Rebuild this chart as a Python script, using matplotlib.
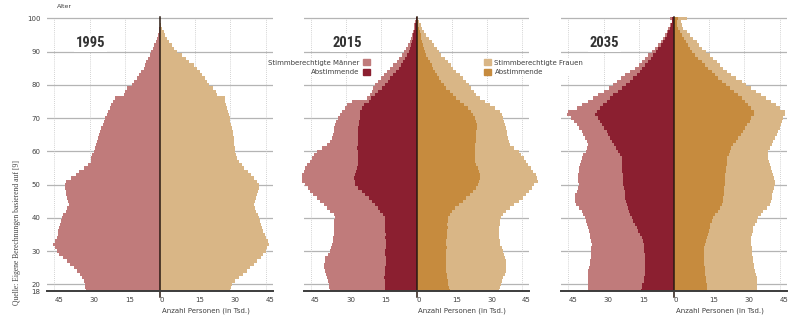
import numpy as np
import matplotlib.pyplot as plt
from matplotlib.patches import Patch

# ages 18..100, one value per year (Tsd. Personen)
ages = np.arange(18, 101)
years = ['1995', '2015', '2035']

# 1995 - stimmberechtigte only
m95 = [31.6, 31.8, 31.9, 32.5, 33.3, 34.3, 35.4, 36.8, 38.2, 39.7,
       41.5, 43.2, 44.0, 44.8, 45.4, 44.6, 44.0, 43.6, 43.3, 43.0,
       42.5, 42.2, 41.8, 41.2, 40.0, 39.5, 39.0, 39.4, 39.8, 40.0,
       40.2, 40.4, 40.4, 40.0, 38.0, 36.0, 34.5, 32.6, 30.5, 29.6,
       29.3, 28.8, 28.0, 27.6, 27.2, 26.8, 26.5, 26.0, 25.6, 25.0,
       24.5, 24.0, 23.3, 22.6, 22.0, 21.4, 21.0, 20.2, 19.3, 15.5,
       15.0, 14.2, 12.0, 11.2, 10.0, 9.0, 8.0, 7.0, 6.5, 5.8,
       5.2, 4.4, 3.7, 3.0, 2.4, 1.8, 1.3, 0.9, 0.5, 0.3,
       0.1, 0.0, 0.0]
f95 = [30.0, 30.3, 30.7, 32.0, 33.6, 35.3, 37.1, 38.5, 40.0, 41.4,
       43.0, 44.0, 45.0, 45.8, 46.4, 45.9, 45.2, 44.6, 44.0, 43.5,
       43.0, 42.6, 42.1, 41.6, 41.0, 40.5, 40.0, 40.6, 41.0, 41.4,
       41.8, 42.1, 42.1, 41.2, 40.2, 38.8, 37.5, 36.0, 34.8, 33.6,
       32.9, 32.5, 32.1, 31.9, 31.7, 31.5, 31.4, 31.2, 31.0, 30.7,
       30.4, 30.0, 29.7, 29.4, 29.0, 28.6, 28.3, 27.9, 27.5, 24.3,
       23.8, 22.5, 20.8, 19.9, 19.0, 18.0, 17.0, 15.8, 14.3, 12.5,
       11.0, 9.2, 7.3, 6.0, 5.0, 4.0, 3.0, 2.2, 1.5, 1.0,
       0.5, 0.2, 0.0]

# 2015
m15 = [36.8, 37.2, 37.5, 37.8, 38.2, 38.5, 38.9, 39.4, 39.6, 39.2,
       38.9, 37.8, 36.8, 36.4, 36.1, 35.8, 35.6, 35.4, 35.4, 35.2,
       35.4, 35.0, 34.7, 35.0, 36.8, 38.2, 39.6, 41.0, 42.4, 44.0,
       45.3, 46.5, 47.4, 48.8, 49.0, 48.8, 48.1, 47.4, 46.7, 45.5,
       44.6, 43.8, 42.5, 40.5, 38.2, 37.0, 36.1, 35.8, 35.4, 35.0,
       34.7, 34.2, 33.7, 32.8, 31.8, 30.5, 29.7, 27.6, 21.2, 20.0,
       19.1, 18.4, 17.7, 16.3, 15.2, 14.1, 12.7, 11.3, 9.9, 8.5,
       7.4, 6.4, 5.4, 4.5, 3.7, 3.0, 2.5, 2.1, 1.6, 1.2,
       0.9, 0.7, 0.3]
am15 = [13.4, 13.4, 13.4, 13.6, 13.9, 13.6, 13.4, 13.4, 13.2, 13.0,
        13.2, 13.4, 13.4, 13.2, 13.0, 13.2, 13.4, 13.2, 13.4, 13.4,
        13.6, 13.4, 13.6, 14.5, 15.6, 16.6, 17.7, 19.2, 20.5, 22.0,
        23.3, 24.8, 26.2, 26.4, 26.6, 26.2, 25.7, 25.2, 25.0, 24.8,
        24.8, 24.8, 25.0, 25.2, 25.0, 24.8, 24.8, 24.8, 24.8, 24.8,
        24.6, 24.5, 24.3, 24.2, 24.0, 23.3, 22.6, 20.5, 19.5, 17.7,
        16.3, 14.9, 13.6, 12.4, 11.2, 9.9, 8.6, 7.4, 6.5, 5.7,
        4.8, 4.0, 3.4, 2.8, 2.4, 2.0, 1.7, 1.4, 1.1, 0.8,
        0.5, 0.3, 0.1]
f15 = [35.1, 35.4, 36.0, 36.5, 37.0, 37.5, 38.0, 38.2, 38.2, 38.2,
       37.8, 37.3, 36.8, 36.2, 35.6, 35.4, 35.1, 35.1, 35.0, 35.2,
       35.4, 35.6, 36.1, 37.0, 38.2, 40.0, 41.7, 43.5, 45.3, 46.7,
       48.1, 49.3, 50.2, 51.6, 51.4, 50.9, 49.8, 48.8, 47.7, 46.7,
       45.6, 44.6, 43.5, 41.5, 40.0, 39.4, 38.9, 38.6, 38.4, 38.2,
       37.8, 37.3, 36.8, 36.2, 35.4, 33.5, 31.1, 29.0, 27.0, 25.5,
       24.4, 23.3, 22.2, 21.2, 19.8, 18.4, 17.0, 15.6, 14.5, 13.4,
       12.0, 10.6, 9.5, 8.5, 7.4, 6.4, 5.3, 4.2, 3.3, 2.5,
       1.8, 1.1, 0.5]
af15 = [14.1, 13.8, 13.4, 13.2, 13.0, 12.8, 12.7, 12.7, 12.5, 12.4,
        12.6, 12.7, 12.7, 12.8, 12.7, 12.7, 12.8, 13.0, 13.0, 13.2,
        13.0, 13.2, 13.4, 14.2, 14.9, 16.5, 18.1, 19.7, 21.2, 22.6,
        24.0, 25.2, 26.2, 26.6, 26.9, 26.9, 26.5, 26.2, 25.5, 25.0,
        24.8, 24.8, 25.0, 24.8, 25.0, 25.2, 25.2, 25.4, 25.5, 25.7,
        25.7, 25.5, 25.0, 24.0, 23.0, 21.9, 20.2, 18.4, 17.0, 15.6,
        14.1, 12.7, 11.6, 10.6, 9.7, 8.8, 7.9, 7.1, 6.4, 5.7,
        4.9, 4.2, 3.6, 3.1, 2.7, 2.3, 2.0, 1.7, 1.4, 1.0,
        0.7, 0.4, 0.2]

# 2035
m35 = [36.7, 36.7, 36.7, 36.6, 36.5, 36.5, 36.5, 36.2, 36.0, 35.7,
       35.5, 35.3, 35.3, 35.2, 35.0, 35.3, 35.7, 36.0, 36.4, 36.7,
       37.2, 37.6, 37.9, 38.6, 39.3, 40.5, 41.8, 42.2, 42.4, 42.0,
       41.4, 41.0, 40.7, 40.8, 41.0, 40.9, 40.7, 40.4, 40.0, 39.7,
       39.3, 38.6, 37.6, 37.0, 36.8, 37.2, 37.9, 38.6, 39.3, 40.3,
       41.4, 42.5, 44.0, 45.7, 45.0, 41.5, 39.3, 36.5, 34.4, 32.2,
       30.0, 27.9, 26.2, 24.4, 22.6, 20.9, 18.7, 16.6, 15.0, 13.5,
       12.2, 10.9, 9.5, 8.1, 6.8, 5.5, 4.6, 3.8, 3.1, 2.4,
       1.7, 1.0, 1.7]
am35 = [14.0, 13.7, 13.5, 13.0, 12.6, 12.4, 12.3, 12.3, 12.3, 12.3,
        12.4, 12.5, 12.6, 12.8, 13.0, 13.4, 13.8, 14.5, 15.2, 15.9,
        16.8, 17.4, 18.0, 18.6, 19.2, 19.6, 20.1, 20.5, 20.9, 21.0,
        21.1, 21.3, 21.6, 21.6, 21.6, 21.8, 22.0, 22.1, 22.3, 22.3,
        22.3, 23.0, 23.7, 24.6, 25.4, 26.3, 27.2, 28.0, 28.7, 29.8,
        30.8, 31.7, 32.5, 33.6, 33.0, 31.5, 30.1, 28.7, 27.2, 25.8,
        24.0, 22.3, 20.5, 18.7, 17.3, 15.9, 14.7, 13.5, 12.2, 10.9,
        9.8, 8.8, 7.7, 6.7, 5.6, 4.5, 3.8, 3.1, 2.4, 1.7,
        1.2, 0.7, 0.7]
f35 = [35.2, 35.2, 35.2, 35.2, 35.2, 34.8, 34.5, 34.2, 34.0, 33.8,
       33.5, 33.3, 33.3, 33.1, 33.0, 33.0, 33.0, 33.2, 33.5, 33.8,
       34.5, 35.2, 35.9, 37.0, 38.0, 39.5, 40.9, 41.3, 41.6, 41.7,
       42.3, 42.8, 43.2, 43.0, 42.6, 42.2, 41.6, 41.3, 40.9, 40.5,
       40.1, 40.1, 40.1, 40.8, 41.6, 42.3, 43.0, 43.7, 44.4, 45.1,
       45.8, 46.2, 46.5, 47.5, 47.2, 45.3, 43.5, 41.4, 39.3, 37.2,
       35.1, 33.0, 30.9, 28.8, 26.6, 24.5, 22.8, 21.0, 19.6, 18.2,
       16.7, 15.3, 13.5, 11.8, 10.7, 9.6, 8.2, 6.8, 5.4, 4.0,
       3.5, 3.0, 5.4]
af35 = [13.9, 13.9, 13.9, 13.8, 13.6, 13.4, 13.2, 13.1, 13.0, 12.9,
        12.9, 12.9, 12.9, 13.0, 13.2, 13.5, 13.9, 14.4, 14.9, 15.3,
        15.5, 16.0, 16.6, 17.6, 18.6, 19.7, 20.3, 20.7, 21.0, 21.2,
        21.4, 21.5, 21.7, 21.7, 21.7, 21.8, 22.0, 22.2, 22.4, 22.6,
        22.8, 23.3, 23.8, 24.5, 25.2, 26.3, 27.4, 28.4, 29.5, 30.4,
        31.3, 32.2, 33.0, 34.2, 34.0, 33.0, 31.6, 30.2, 28.8, 27.4,
        25.6, 23.8, 22.0, 20.3, 18.8, 17.4, 16.0, 14.6, 13.2, 11.8,
        10.3, 8.9, 7.8, 6.8, 5.9, 5.0, 4.1, 3.3, 2.5, 1.6,
        1.4, 1.1, 1.8]

xticks = [-45, -30, -15, 0, 15, 30, 45]
xtick_labels = ['45', '30', '15', '0', '15', '30', '45']
yticks = [18, 20, 30, 40, 50, 60, 70, 80, 90, 100]

c_m = '#c07b7b'    # Stimmberechtigte Maenner
c_am = '#8b1f30'   # Abstimmende Maenner
c_f = '#d9b686'    # Stimmberechtigte Frauen
c_af = '#c68b3e'   # Abstimmende Frauen
txt = '#404040'
cond = ['Roboto Condensed', 'Liberation Sans Narrow', 'Roboto', 'DejaVu Sans']

fig = plt.figure(figsize=(7.95, 3.19), dpi=100)
lefts = [47.4 / 795, 304 / 795, 561.4 / 795]
# bar edges: one year per bar, the lowest bar stops at the x axis (age 18)
edges = np.concatenate([[ages[0]], ages[1:] - 0.5, [ages[-1] + 0.5]])

panels = [
    (m95, None, f95, None),
    (m15, am15, f15, af15),
    (m35, am35, f35, af35),
]

for i, (left, year, (m, am, f, af)) in enumerate(zip(lefts, years, panels)):
    ax = fig.add_axes([left, 28 / 319, 225.2 / 795, 274.7 / 319])
    ax.set_xlim(-48, 48)
    ax.set_ylim(18, 100.6)

    # grid
    for a in yticks[1:]:
        ax.axhline(a, color='#b4b4b4', lw=0.9, zorder=0)
    ax.vlines([t for t in xticks if t != 0], 18, 100, colors='#c4c4c4',
              linestyles=(0, (1, 1.5)), lw=0.6, zorder=0)

    # bars may reach past the panel edge, as in the original
    ax.stairs(-np.array(m), edges, orientation='horizontal', fill=True,
              color=c_m, zorder=1, clip_on=False)
    ax.stairs(np.array(f), edges, orientation='horizontal', fill=True,
              color=c_f, zorder=1, clip_on=False)
    if am is not None:
        ax.stairs(-np.array(am), edges, orientation='horizontal', fill=True,
                  color=c_am, zorder=2, clip_on=False)
        ax.stairs(np.array(af), edges, orientation='horizontal', fill=True,
                  color=c_af, zorder=2, clip_on=False)

    ax.plot([0, 0], [100.3, 16.2], color='#2a1a12', lw=1.1, zorder=4,
            clip_on=False)

    for s in ['left', 'right', 'top']:
        ax.spines[s].set_visible(False)
    ax.spines['bottom'].set_color('#3c3c3c')
    ax.spines['bottom'].set_linewidth(1.4)
    ax.spines['bottom'].set_zorder(5)

    ax.set_xticks(xticks)
    ax.set_xticklabels(xtick_labels, ha='left')
    ax.tick_params(axis='x', length=0, pad=4, labelsize=5, colors=txt)
    ax.set_yticks(yticks)
    if i == 0:
        ax.set_yticklabels([str(t) for t in yticks])
        ax.tick_params(axis='y', length=0, pad=5, labelsize=5, colors=txt)
        ax.text(0.043, 1.034, 'Alter', transform=ax.transAxes, fontsize=4.5,
                color=txt, va='center')
    else:
        ax.tick_params(axis='y', length=0, labelleft=False)

    ax.text(0.8, -0.073, 'Anzahl Personen (in Tsd.)',
            transform=ax.get_xaxis_transform(), fontsize=5, color=txt,
            ha='left', va='center')
    ax.text(-36, 92.6, year, fontsize=10.5, fontweight='bold', color='#333333',
            family=cond, ha='left', va='center', zorder=6,
            bbox=dict(facecolor='white', edgecolor='none', pad=1.5))

leg_kw = dict(frameon=True, facecolor='white', edgecolor='none', framealpha=1,
              fontsize=5, handlelength=1.0, handleheight=1.0,
              handletextpad=0.5, labelspacing=0.45, borderaxespad=0,
              borderpad=0.15)
leg1 = fig.legend(handles=[Patch(color=c_m), Patch(color=c_am)],
                  labels=['Stimmberechtigte Männer', 'Abstimmende'],
                  loc='upper right', bbox_to_anchor=(371 / 795, 1 - 58 / 319),
                  markerfirst=False, **leg_kw)
leg2 = fig.legend(handles=[Patch(color=c_f), Patch(color=c_af)],
                  labels=['Stimmberechtigte Frauen', 'Abstimmende'],
                  loc='upper left', bbox_to_anchor=(483 / 795, 1 - 58 / 319),
                  **leg_kw)
for leg in (leg1, leg2):
    for t in leg.get_texts():
        t.set_color(txt)

fig.text(17 / 795, 14 / 319, 'Quelle: Eigene Berechnungen basierend auf [9]',
         rotation=90, ha='center', va='bottom', fontsize=5.5,
         family='Liberation Serif', color='#444444')

fig.savefig('out.png', dpi=100)
